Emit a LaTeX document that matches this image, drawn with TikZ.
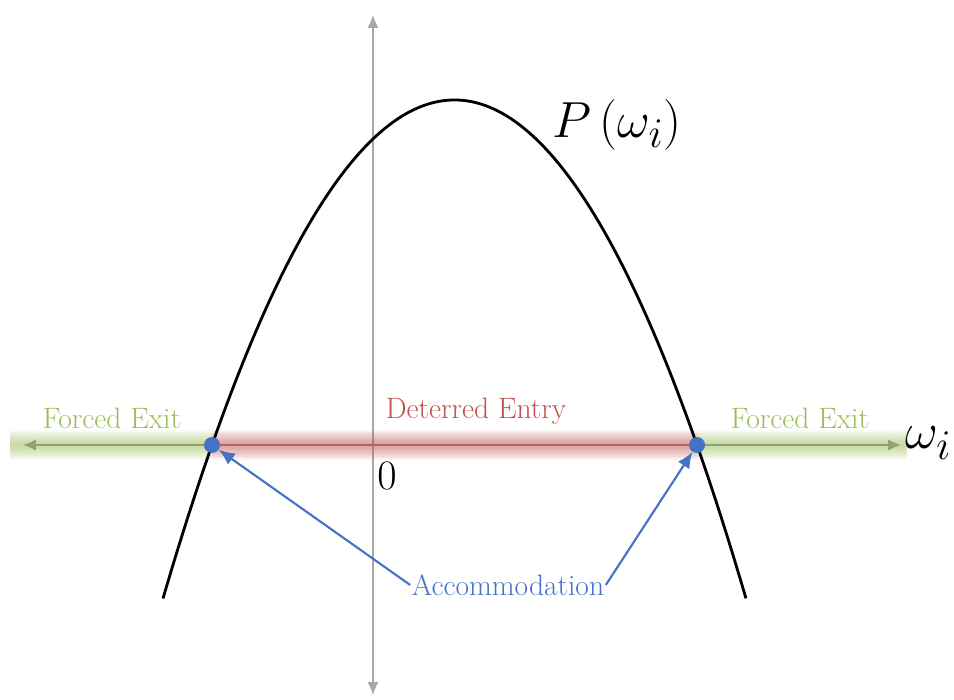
\documentclass[tikz,border=0pt]{standalone}
\usetikzlibrary{arrows.meta}
\definecolor{exitgreen}{RGB}{155,187,89}
\definecolor{entryred}{RGB}{192,80,77}
\definecolor{accblue}{RGB}{68,114,196}
\definecolor{axisgray}{RGB}{168,168,168}
\begin{document}
\begin{tikzpicture}[
                    every node/.style={inner sep=1pt},
                    lbl/.style={font=\fontsize{21}{25}\selectfont},
                    mathlbl/.style={font=\Huge, scale=1.45},
                    dotnode/.style={circle, fill=accblue, minimum size=0.4cm, inner sep=0pt}
                    ]
                    \useasboundingbox (-9.325,-6.375) rectangle (14.525,11.125);

                    % axes
                    \draw[axisgray, line width=1.2pt, {Latex[length=3.2mm,width=2.8mm]}-{Latex[length=3.2mm,width=2.8mm]}] (0,-6.25) -- (0,10.75);
                    \draw[axisgray!85!black, line width=1.2pt, {Latex[length=3.2mm,width=2.8mm]}-{Latex[length=3.2mm,width=2.8mm]}] (-8.75,0) -- (13.2,0);

                    % glow bands
                    \foreach \w in {21,19,...,3}{
                        \draw[exitgreen, line width=\w pt, opacity=0.07] (-9.075,0) -- (-4.025,0);
                        \draw[exitgreen, line width=\w pt, opacity=0.07] (8.1,0) -- (13.35,0);
                        \draw[entryred, line width=\w pt, opacity=0.07] (-4.025,0) -- (8.1,0);
                    }

                    % curve
                    \draw[line width=2pt, domain=-5.25:9.325, samples=120] plot (\x, {-0.2347*(\x+4.025)*(\x-8.1)});

                    \node (dl) [dotnode] at (-4.025,0) {};
                    \node (dr) [dotnode] at (8.1,0) {};

                    \node (zero) [font=\Huge, scale=1.2] at (0.35,-0.78) {$0$};
                    \node (omega) [mathlbl, anchor=west] at (13.25,0.05) {$\omega_i$};
                    \node (pw) [mathlbl] at (6.1,8.0) {$P\left(\omega_i\right)$};

                    \node (exitl) [lbl, text=exitgreen] at (-6.525,0.67) {Forced Exit};
                    \node (exitr) [lbl, text=exitgreen] at (10.675,0.67) {Forced Exit};
                    \node (entry) [lbl, text=entryred] at (2.575,0.85) {Deterred Entry};
                    \node (acc) [lbl, text=accblue] at (3.375,-3.5) {Accommodation};

                    \foreach \i/\j in {acc.west/dl, acc.east/dr}{
                        \draw[accblue, line width=1.5pt, -{Latex[length=4mm,width=3.4mm]}] (\i) -- (\j);
                    }
                \end{tikzpicture}
\end{document}
